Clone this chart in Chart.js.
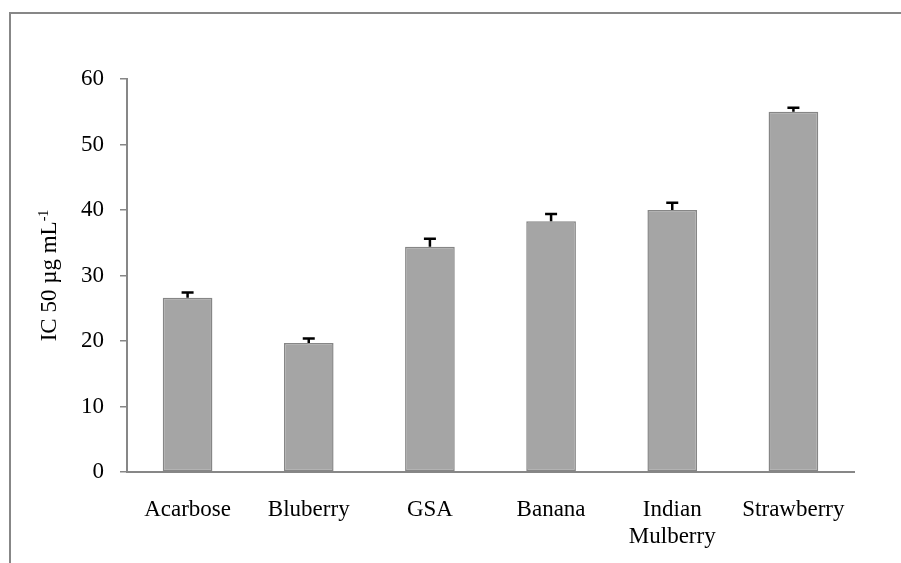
<!DOCTYPE html>
<html>
<head>
<meta charset="utf-8">
<title>IC50</title>
<script src="https://cdn.jsdelivr.net/npm/chart.js@4/dist/chart.umd.min.js"></script>
<style>
  html, body { margin: 0; padding: 0; background: #fff; }
  #wrap { position: relative; width: 901px; height: 563px; overflow: hidden; }
  #frame { position: absolute; left: 9px; top: 12px; right: -20px; bottom: -20px;
           border-top: 2px solid #878787; border-left: 2px solid #878787; }
  #chart { position: absolute; left: 0; top: 0; }
</style>
</head>
<body>
<div id="wrap">
  <div id="frame"></div>
  <canvas id="chart" width="901" height="563"></canvas>
</div>
<script>
// samples and measured IC50 (µg/mL) with upper error
var samples = ['Acarbose', 'Bluberry', 'GSA', 'Banana', ['Indian', 'Mulberry'], 'Strawberry'];
var ic50 = [26.6, 19.7, 34.4, 38.3, 40.0, 55.0];
var errs = [0.8, 0.7, 1.2, 1.1, 1.1, 0.6];
var yTicks = [0, 10, 20, 30, 40, 50, 60];

var serif = "'Liberation Serif', 'Times New Roman', serif";

// upper error bars only, drawn on top of the bars
var errorBars = {
  id: 'errorBars',
  afterDatasetsDraw: function(chart) {
    var ctx = chart.ctx;
    var y = chart.scales.y;
    var bars = chart.getDatasetMeta(0).data;
    ctx.save();
    ctx.strokeStyle = '#000';
    ctx.lineWidth = 2.5;
    bars.forEach(function(bar, i) {
      var top = y.getPixelForValue(ic50[i] + errs[i]);
      var base = y.getPixelForValue(ic50[i]);
      ctx.beginPath();
      ctx.moveTo(bar.x, base);
      ctx.lineTo(bar.x, top);
      ctx.moveTo(bar.x - 6, top);
      ctx.lineTo(bar.x + 6, top);
      ctx.stroke();
    });
    ctx.restore();
  }
};

// rotated y title with superscript
var yTitle = {
  id: 'yTitle',
  afterDraw: function(chart) {
    var ctx = chart.ctx;
    var area = chart.chartArea;
    var main = 'IC 50 µg mL';
    var sup = '-1';
    ctx.save();
    ctx.fillStyle = '#000';
    ctx.font = '23px ' + serif;
    var w1 = ctx.measureText(main).width;
    ctx.font = '14px ' + serif;
    var w2 = ctx.measureText(sup).width;
    var cy = (area.top + area.bottom) / 2;
    ctx.translate(56, cy);
    ctx.rotate(-Math.PI / 2);
    ctx.textBaseline = 'alphabetic';
    ctx.textAlign = 'left';
    var start = -(w1 + w2) / 2;
    ctx.font = '23px ' + serif;
    ctx.fillText(main, start, 0);
    ctx.font = '14px ' + serif;
    ctx.fillText(sup, start + w1, -8);
    ctx.restore();
  }
};

var ctx = document.getElementById('chart').getContext('2d');
var chart = new Chart(ctx, {
  type: 'bar',
  data: {
    labels: samples,
    datasets: [{
      data: ic50,
      backgroundColor: '#a5a5a5',
      borderColor: '#868686',
      borderWidth: 1.5,
      borderSkipped: false,
      barPercentage: 0.82,
      categoryPercentage: 0.5
    }]
  },
  options: {
    responsive: false,
    animation: false,
    layout: { padding: { left: 0, top: 79, right: 47, bottom: 0 } },
    plugins: { legend: { display: false }, tooltip: { enabled: false } },
    scales: {
      x: {
        grid: { display: false, drawTicks: false },
        border: { display: true, color: '#878787', width: 2 },
        ticks: {
          color: '#000',
          padding: 24,
          maxRotation: 0,
          font: { family: serif, size: 23, lineHeight: 1.18 }
        },
        afterFit: function(s) { s.height = 91; }
      },
      y: {
        min: 0,
        max: 60,
        afterBuildTicks: function(s) { s.ticks = yTicks.map(function(v) { return { value: v }; }); },
        grid: { drawOnChartArea: false, tickLength: 7, color: '#878787', lineWidth: 1.5 },
        border: { display: true, color: '#878787', width: 2 },
        ticks: {
          color: '#000',
          padding: 16,
          font: { family: serif, size: 23 }
        },
        afterFit: function(s) { s.width = 127; }
      }
    }
  },
  plugins: [errorBars, yTitle]
});
</script>
</body>
</html>
